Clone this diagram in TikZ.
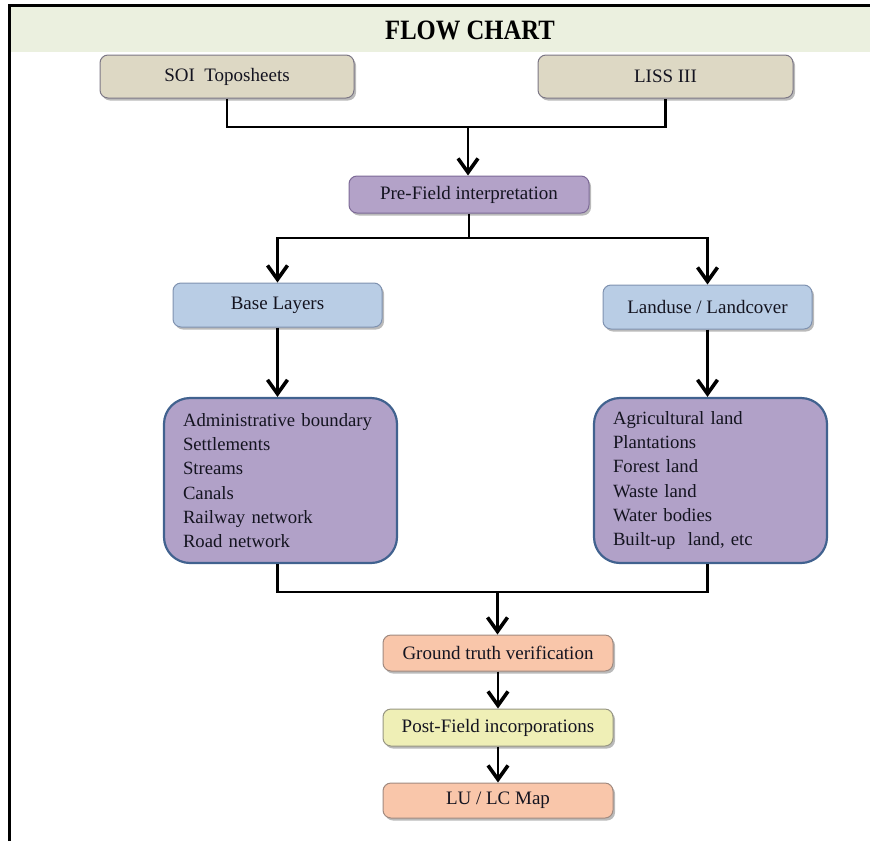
\documentclass[tikz,border=0pt]{standalone}
\usepackage{fontspec}
\setmainfont{Liberation Serif}
\usetikzlibrary{arrows.meta,shadows}
\definecolor{band}{HTML}{EBF0DF}
\definecolor{tan}{HTML}{DDD8C4}
\definecolor{tanb}{HTML}{7C7785}
\definecolor{lilac}{HTML}{B3A2C8}
\definecolor{lilacb}{HTML}{7D6A97}
\definecolor{lblue}{HTML}{B9CDE5}
\definecolor{lblueb}{HTML}{7F92B0}
\definecolor{bigfill}{HTML}{B1A1C8}
\definecolor{bigb}{HTML}{41628F}
\definecolor{peach}{HTML}{F9C6AA}
\definecolor{peachb}{HTML}{A08A80}
\definecolor{lyellow}{HTML}{EFEFB6}
\definecolor{lyellowb}{HTML}{979683}
\definecolor{txt}{HTML}{141420}
\tikzset{
  boxbase/.style={rounded corners=8pt, line width=1pt, text=txt,
    font=\fontsize{19}{22}\selectfont,
    drop shadow={shadow xshift=2pt,shadow yshift=-2.5pt,fill=black!60,opacity=0.45}},
  tanbox/.style={boxbase, fill=tan, draw=tanb},
  lilacbox/.style={boxbase, fill=lilac, draw=lilacb},
  bluebox/.style={boxbase, fill=lblue, draw=lblueb},
  peachbox/.style={boxbase, fill=peach, draw=peachb},
  yellowbox/.style={boxbase, fill=lyellow, draw=lyellowb},
  bigbox/.style={rounded corners=26pt, fill=bigfill, draw=bigb, line width=2.2pt,
    text=txt, align=left, inner xsep=19pt, inner ysep=0pt, text width=195pt,
    minimum height=165pt, font=\fontsize{18.7}{24.2}\selectfont},
  conn/.style={line width=2.2pt, black},
  arr/.style={line width=2.6pt, black, -{Straight Barb[length=14pt,width=20pt,line width=3.6pt]}}
}
\begin{document}
\begin{tikzpicture}[x=1pt,y=-1pt]
\useasboundingbox (0,0) rectangle (870,841);
% frame and title band
\fill[band] (11,7) rectangle (870,52);
\draw[line width=3pt] (9.5,841) -- (9.5,5) -- (870,5);
\node[xscale=0.88] (title) at (470,30) {\fontsize{28}{30}\selectfont\bfseries FLOW CHART};
% boxes
\node[tanbox, minimum width=254pt, minimum height=43pt] (soi) at (227,76.5) {SOI\ \ Toposheets};
\node[tanbox, minimum width=255pt, minimum height=43pt] (liss) at (665.5,76.5) {LISS III};
\node[lilacbox, minimum width=240pt, minimum height=37pt] (pre) at (469,194.5) {Pre-Field interpretation};
\node[bluebox, minimum width=209pt, minimum height=44pt] (base) at (277.5,305) {Base Layers};
\node[bluebox, minimum width=209pt, minimum height=44pt] (land) at (707.5,307) {Landuse / Landcover};
\node[bigbox] (adm) at (280.5,480.5) {Administrative boundary\\Settlements\\Streams\\Canals\\Railway network\\Road network};
\node[bigbox] (agri) at (710.5,480.5) {Agricultural land\\Plantations\\Forest land\\Waste land\\Water bodies\\Built-up\ \ land, etc};
\node[peachbox, minimum width=230pt, minimum height=36pt] (gt) at (498,653) {Ground truth verification};
\node[yellowbox, minimum width=230pt, minimum height=37pt] (post) at (498,727.5) {Post-Field incorporations};
\node[peachbox, minimum width=230pt, minimum height=35pt] (map) at (498,800.5) {LU / LC Map};
% junctions
\coordinate (j1) at (468,127);
\coordinate (j2) at (469,238);
\coordinate (j3) at (497.5,592);
% connectors
\draw[conn] (soi.south) |- (j1) -| (liss.south);
\draw[arr] (j1) -- (j1 |- pre.north);
\draw[conn] (pre.south) -- (j2);
\draw[arr] (j2) -| (base.north);
\draw[arr] (j2) -| (land.north);
\draw[arr] (base.south) -- (base.south |- adm.north);
\draw[arr] (land.south) -- (land.south |- agri.north);
\draw[conn] (base.south |- adm.south) |- (j3) -| (land.south |- agri.south);
\draw[arr] (j3) -- (j3 |- gt.north);
\draw[arr] (gt.south) -- (post.north);
\draw[arr] (post.south) -- (map.north);
\end{tikzpicture}
\end{document}
